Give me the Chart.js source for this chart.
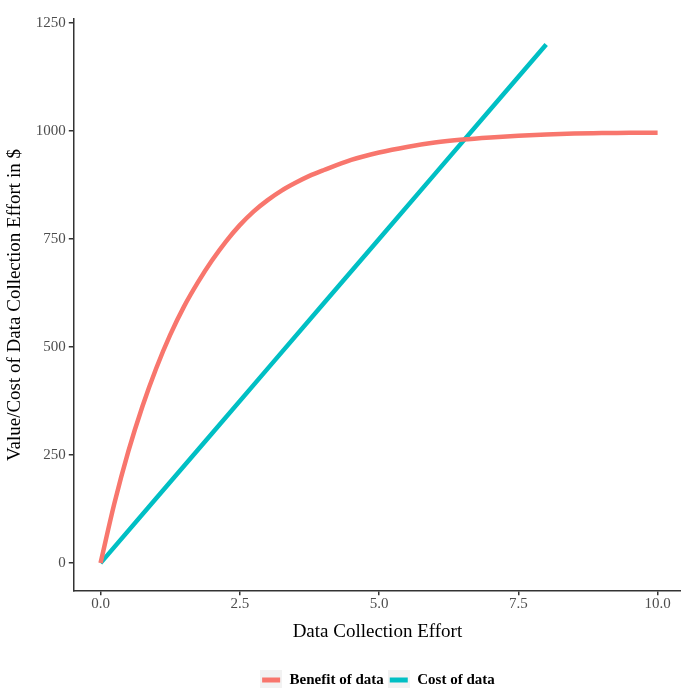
<!DOCTYPE html>
<html>
<head>
<meta charset="utf-8">
<script src="https://cdn.jsdelivr.net/npm/chart.js@4"></script>
<style>
  html, body { margin: 0; padding: 0; background: #fff; }
  #wrap { width: 681px; height: 688px; }
</style>
</head>
<body>
<div id="wrap"><canvas id="chart" width="681" height="688"></canvas></div>
<script>
'use strict'

// values
const benefitX = [0, 0.25, 0.5, 0.75, 1, 1.25, 1.5, 1.75, 2, 2.25, 2.5, 2.75, 3, 3.25, 3.5, 3.75, 4, 4.5, 5, 5.5, 6, 6.5, 7, 7.5, 8, 8.5, 9, 9.5, 10]
const benefitY = [0, 139, 259, 362, 451, 528, 594, 650, 700, 744, 782, 814, 840, 862, 880, 896, 909, 933, 950, 963, 973, 980, 985, 989, 992, 994, 995, 996, 996]
const costX = [0, 1, 2, 3, 4, 5, 6, 7, 8]
const costY = [0, 150, 300, 450, 600, 750, 900, 1050, 1200]
const xTicks = [0, 2.5, 5, 7.5, 10]
const yTicks = [0, 250, 500, 750, 1000, 1250]
const seriesNames = ['Benefit of data', 'Cost of data']
const seriesColors = ['#F8766D', '#00BFC4']

const serif = "'Liberation Serif', 'DejaVu Serif', serif"

// legend key: grey square with a coloured bar, like ggplot
const makeKey = (color) => {
  const c = document.createElement('canvas')
  c.width = 22
  c.height = 22
  const g = c.getContext('2d')
  g.fillStyle = '#f2f2f2'
  g.fillRect(0, 0, 22, 22)
  g.fillStyle = color
  g.fillRect(2, 8, 18, 5)
  return c
}

const toPoints = (xs, ys) => xs.map((x, i) => ({ x: x, y: ys[i] }))

const ctx = document.getElementById('chart')
const myChart = new Chart(ctx, {
  type: 'line',
  data: {
    datasets: [{
      label: seriesNames[0],
      data: toPoints(benefitX, benefitY),
      borderColor: seriesColors[0],
      backgroundColor: seriesColors[0],
      borderWidth: 4.5,
      pointRadius: 0,
      cubicInterpolationMode: 'monotone',
      pointStyle: makeKey(seriesColors[0])
    }, {
      label: seriesNames[1],
      data: toPoints(costX, costY),
      borderColor: seriesColors[1],
      backgroundColor: seriesColors[1],
      borderWidth: 4.5,
      pointRadius: 0,
      pointStyle: makeKey(seriesColors[1])
    }]
  },
  options: {
    responsive: false,
    animation: false,
    // legend sits lower than Chart.js would put it, hence the negative bottom
    layout: { padding: { top: 19, right: 0, left: 4, bottom: -10 } },
    plugins: {
      tooltip: { enabled: false },
      legend: {
        position: 'bottom',
        fullSize: false,
        labels: {
          usePointStyle: true,
          pointStyleWidth: 22,
          color: '#000',
          font: { family: serif, size: 15, weight: 'bold' },
          padding: 4
        }
      }
    },
    scales: {
      x: {
        type: 'linear',
        min: -0.48,
        max: 10.42,
        afterBuildTicks: (scale) => { scale.ticks = xTicks.map(v => ({ value: v })) },
        ticks: {
          color: '#4d4d4d',
          font: { family: serif, size: 15 },
          padding: 0,
          maxRotation: 0,
          callback: (v) => v.toFixed(1)
        },
        grid: { drawOnChartArea: false, drawTicks: true, tickLength: 4, color: '#333', lineWidth: 1.5 },
        border: { display: true, color: '#333', width: 1.5 },
        title: {
          display: true,
          text: 'Data Collection Effort',
          color: '#000',
          font: { family: serif, size: 19 },
          padding: { top: 7, bottom: 26 }
        }
      },
      y: {
        type: 'linear',
        min: -65,
        max: 1259,
        afterBuildTicks: (scale) => { scale.ticks = yTicks.map(v => ({ value: v })) },
        ticks: {
          color: '#4d4d4d',
          font: { family: serif, size: 15 },
          padding: 3,
          callback: (v) => String(v)
        },
        grid: { drawOnChartArea: false, drawTicks: true, tickLength: 5, color: '#333', lineWidth: 1.5 },
        border: { display: true, color: '#333', width: 1.5 },
        title: {
          display: true,
          text: 'Value/Cost of Data Collection Effort in $',
          color: '#000',
          font: { family: serif, size: 19 },
          padding: { top: 0, bottom: 6 }
        }
      }
    }
  }
})
</script>
</body>
</html>
